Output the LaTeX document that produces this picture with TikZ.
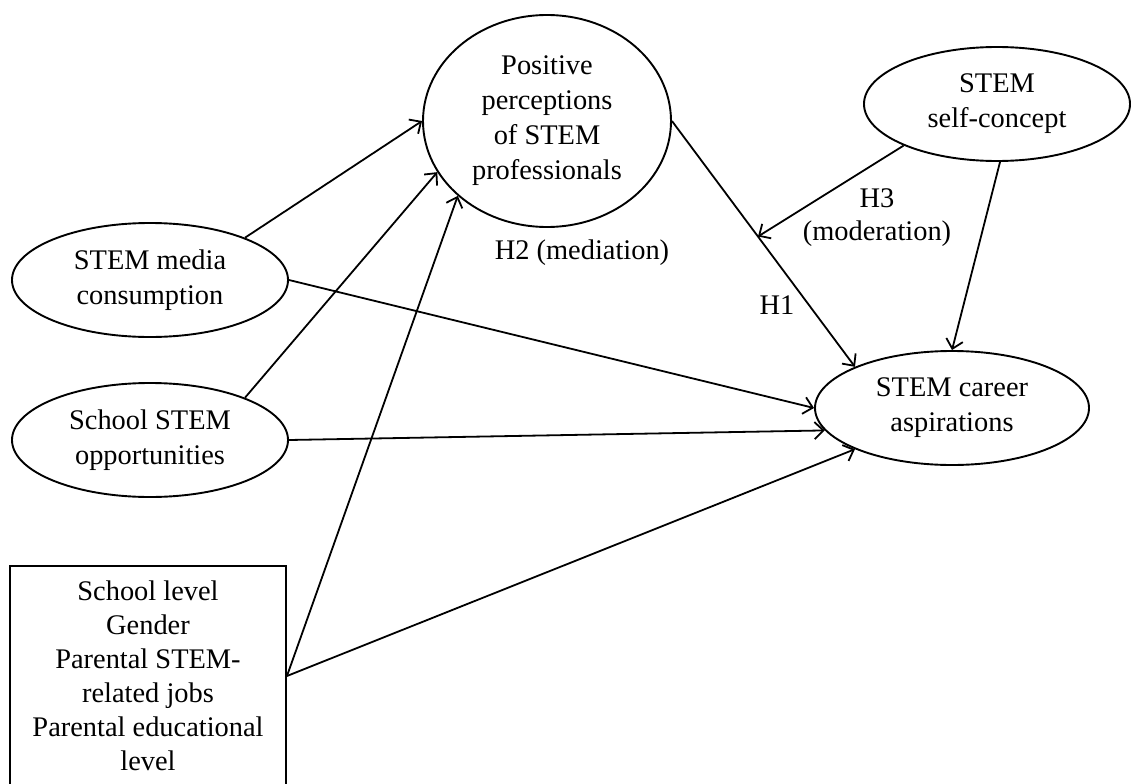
\documentclass[tikz,border=0pt]{standalone}
\usepackage{fontspec}
\setmainfont{Liberation Serif}
\usetikzlibrary{shapes.geometric,arrows.meta,calc}
\begin{document}
\begin{tikzpicture}[x=1pt,y=-1pt,
  every node/.style={font=\fontsize{28.4}{35}\selectfont, align=center, inner sep=0pt},
  oval/.style={draw, ellipse, line width=1.9pt},
  ctrlbox/.style={draw, rectangle, line width=1.9pt, font=\fontsize{28.4}{34}\selectfont},
  conn/.style={line width=1.8pt, -{Straight Barb[length=9pt,width=17pt]}},
  lbl/.style={font=\fontsize{28.4}{33}\selectfont}
  ]
\useasboundingbox[fill=white] (0,0) rectangle (1132,784);

\node[oval, minimum width=248pt, minimum height=212pt] (pos) at (547,121) {Positive\\perceptions\\of STEM\\professionals};
\node[oval, minimum width=266pt, minimum height=114pt] (self) at (997,104) {STEM\\self-concept};
\node[oval, minimum width=276pt, minimum height=114pt] (media) at (150,280) {STEM media\\consumption};
\node[oval, minimum width=276pt, minimum height=114pt] (school) at (150,440) {School STEM\\opportunities};
\node[oval, minimum width=274pt, minimum height=114pt] (career) at (952,408) {STEM career\\aspirations};
\node[ctrlbox, minimum width=276pt, minimum height=220pt] (ctrl) at (148,676) {School level\\Gender\\Parental STEM-\\related jobs\\Parental educational\\level};

\coordinate (h3tip) at ($(pos.east)!0.47!(career.157)$);

\draw[conn] (media.24) -- (pos.180);
\draw[conn] (school.24) -- (pos.205);
\draw[conn] (ctrl.east) -- (pos.220);
\draw[conn] (media.east) -- (career.180);
\draw[conn] (school.east) -- (career.190);
\draw[conn] (ctrl.east) -- (career.203);
\draw[conn] (pos.east) -- (career.157);
\draw[conn] (self.273) -- (career.north);
\draw[conn] (self.204) -- (h3tip);

\node (h2) at (582,253) {H2 (mediation)};
\node (h1) at (777,305) {H1};
\node[lbl] (h3) at (877,218) {H3\\(moderation)};
\end{tikzpicture}
\end{document}
